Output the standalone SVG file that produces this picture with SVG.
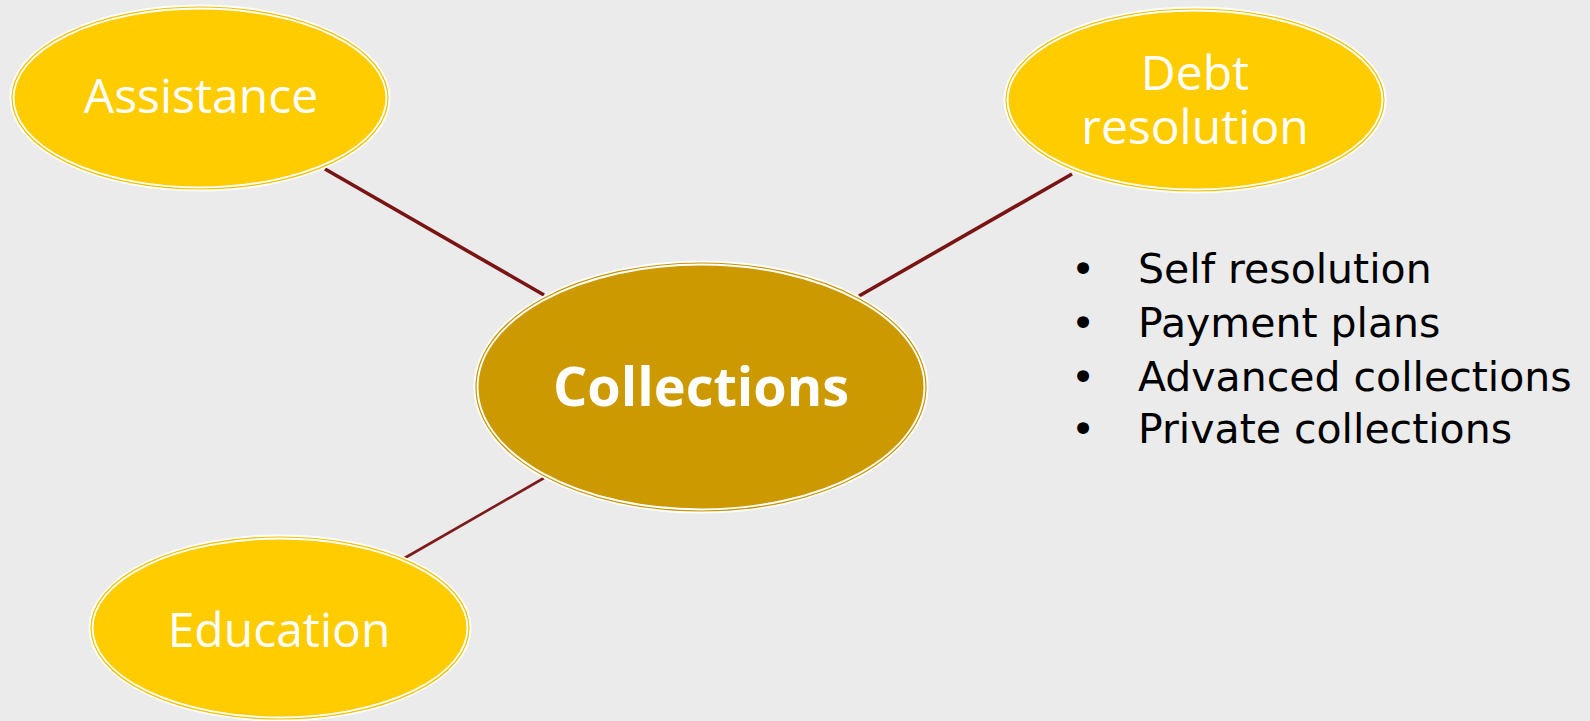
<svg xmlns="http://www.w3.org/2000/svg" width="1590" height="721" viewBox="0 0 1590 721">
<style>
.outer{stroke:#FFFFFF;stroke-width:5}
.ring{fill:none;stroke-width:1.2}
.y{fill:#FFCC00}
.yr{stroke:#F2C200}
.g{fill:#CC9900}
.gr{stroke:#C89400}
.lbl{font-family:"Open Sans","DejaVu Sans",sans-serif;fill:#FFFFFF;text-anchor:middle}
.conn{stroke:#7A1414;stroke-linecap:butt}
.bul{font-family:"DejaVu Sans","Liberation Sans",sans-serif;font-size:41px;fill:#000000}
</style>
<rect width="1590" height="721" fill="#EBEBEB"/>
<g id="connectors">
<line class="conn" x1="325" y1="169" x2="544" y2="295" stroke-width="3.6"/>
<line class="conn" x1="1072" y1="174" x2="859" y2="296" stroke-width="3.6"/>
<line class="conn" x1="544" y1="478" x2="403" y2="559" stroke-width="2.6" style="stroke:#7E1A1A"/>
</g>
<g id="assistance">
<ellipse class="outer y" cx="200" cy="98" rx="188" ry="91"/>
<ellipse class="ring yr" cx="200" cy="98" rx="188" ry="91"/>
<text class="lbl" x="201" y="113" font-size="48">Assistance</text>
</g>
<g id="collections">
<ellipse class="outer g" cx="701" cy="387" rx="225" ry="124"/>
<ellipse class="ring gr" cx="701" cy="387" rx="225" ry="124"/>
<text class="lbl" x="701" y="406" font-size="54" font-weight="bold">Collections</text>
</g>
<g id="debt-resolution">
<ellipse class="outer y" cx="1195" cy="100" rx="189" ry="91"/>
<ellipse class="ring yr" cx="1195" cy="100" rx="189" ry="91"/>
<text class="lbl" font-size="48"><tspan x="1195" y="90">Debt</tspan><tspan x="1195" y="144">resolution</tspan></text>
</g>
<g id="education">
<ellipse class="outer y" cx="280" cy="628" rx="189" ry="91"/>
<ellipse class="ring yr" cx="280" cy="628" rx="189" ry="91"/>
<text class="lbl" x="279" y="647" font-size="48">Education</text>
</g>
<g id="bullets">
<text class="bul" x="1071" y="283">•</text><text class="bul" x="1138" y="283">Self resolution</text>
<text class="bul" x="1071" y="337">•</text><text class="bul" x="1138" y="337">Payment plans</text>
<text class="bul" x="1071" y="391">•</text><text class="bul" x="1138" y="391">Advanced collections</text>
<text class="bul" x="1071" y="443">•</text><text class="bul" x="1138" y="443">Private collections</text>
</g>
</svg>
